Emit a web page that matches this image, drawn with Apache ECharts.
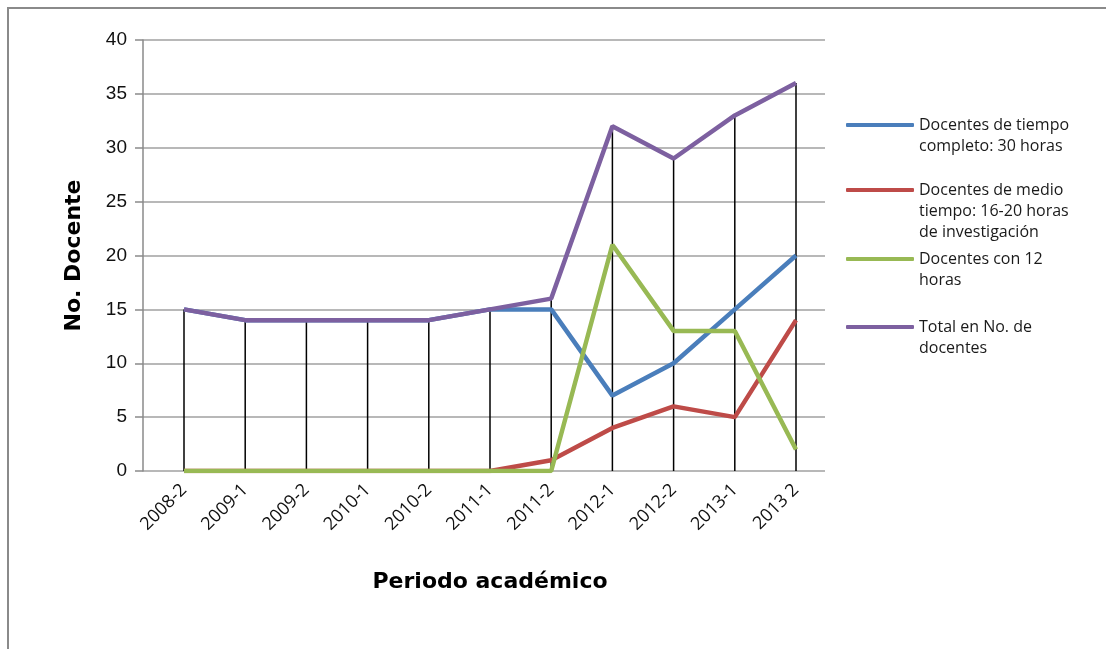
<!DOCTYPE html>
<html>
<head>
<meta charset="utf-8">
<script src="https://cdn.jsdelivr.net/npm/echarts@6/dist/echarts.min.js"></script>
<style>
  html, body { margin: 0; padding: 0; background: #fff; }
  #chart { width: 1106px; height: 649px; }
</style>
</head>
<body>
<div id="chart"></div>
<script>
// periodos
const periodos = ['2008-2', '2009-1', '2009-2', '2010-1', '2010-2', '2011-1', '2011-2', '2012-1', '2012-2', '2013-1', '2013 2'];
const tiempoCompleto = [15, 14, 14, 14, 14, 15, 15, 7, 10, 15, 20];
const medioTiempo = [0, 0, 0, 0, 0, 0, 1, 4, 6, 5, 14];
const doceHoras = [0, 0, 0, 0, 0, 0, 0, 21, 13, 13, 2];
const totalDocentes = [15, 14, 14, 14, 14, 15, 16, 32, 29, 33, 36];
const yTicks = [0, 5, 10, 15, 20, 25, 30, 35, 40];

const nombres = [
  'Docentes de tiempo\ncompleto: 30 horas',
  'Docentes de medio\ntiempo: 16-20 horas\nde investigación',
  'Docentes con 12\nhoras',
  'Total en No. de\ndocentes'
];
const colores = ['#4A7EBB', '#BE4B48', '#98B954', '#7D60A0'];
const legendTops = [125, 190, 259, 327];

const lineH = 21;
// lineas vacias arriba para que el icono quede en la primera linea
const legends = nombres.map((n, i) => {
  const k = n.split('\n').length;
  const alto = (2 * k - 1) * lineH;
  return {
    orient: 'vertical',
    left: 846,
    top: legendTops[i] - alto / 2,
    data: [n],
    formatter: name => '\n'.repeat(k - 1) + name,
    icon: 'roundRect',
    itemWidth: 68,
    itemHeight: 4,
    itemGap: 0,
    padding: 0,
    textStyle: {
      fontFamily: 'Open Sans',
      fontSize: 16,
      color: '#1a1a1a',
      lineHeight: lineH
    }
  };
});

const chart = echarts.init(document.getElementById('chart'));
const option = {
  backgroundColor: '#fff',
  animation: false,
  graphic: [{
    type: 'rect',
    shape: { x: 8, y: 8, width: 1120, height: 680 },
    style: { fill: 'none', stroke: '#8a8a8a', lineWidth: 2 },
    silent: true
  }],
  legend: legends,
  grid: [
    { left: 143, right: 281, top: 40, bottom: 178 },
    { left: 184, right: 310, top: 40, bottom: 178 }
  ],
  xAxis: [
    { gridIndex: 0, type: 'value', min: 0, max: 1, show: false },
    {
      gridIndex: 1,
      type: 'category',
      data: periodos,
      boundaryGap: false,
      axisLine: { show: false },
      axisTick: { show: false },
      axisLabel: {
        rotate: 45,
        margin: 16,
        fontFamily: 'Open Sans',
        fontSize: 18,
        color: '#111'
      },
      name: 'Periodo académico',
      nameLocation: 'middle',
      nameGap: 100,
      nameTextStyle: { fontFamily: 'DejaVu Sans', fontWeight: 'bold', fontSize: 22, color: '#000' }
    }
  ],
  yAxis: [
    {
      gridIndex: 0,
      type: 'value',
      min: yTicks[0],
      max: yTicks[yTicks.length - 1],
      interval: 5,
      axisLine: { show: true, lineStyle: { color: '#8a8a8a', width: 1.5 } },
      axisTick: { show: true, length: 8, lineStyle: { color: '#8a8a8a', width: 1.5 } },
      splitLine: { show: true, lineStyle: { color: '#a0a0a0', width: 1.5 } },
      axisLabel: { margin: 16, fontFamily: 'Liberation Sans', fontSize: 19, color: '#111' },
      name: 'No. Docente',
      nameLocation: 'middle',
      nameGap: 58,
      nameTextStyle: { fontFamily: 'DejaVu Sans', fontWeight: 'bold', fontSize: 22, color: '#000' }
    },
    { gridIndex: 1, type: 'value', min: 0, max: 40, show: false }
  ],
  series: [
    {
      // lineas de proyeccion
      type: 'bar',
      xAxisIndex: 1,
      yAxisIndex: 1,
      data: totalDocentes,
      barWidth: 1.5,
      itemStyle: { color: '#000' },
      silent: true,
      z: 1
    },
    { name: nombres[0], type: 'line', xAxisIndex: 1, yAxisIndex: 1, data: tiempoCompleto, symbol: 'none', color: colores[0], lineStyle: { width: 4.5 }, z: 3 },
    { name: nombres[1], type: 'line', xAxisIndex: 1, yAxisIndex: 1, data: medioTiempo, symbol: 'none', color: colores[1], lineStyle: { width: 4.5 }, z: 4 },
    { name: nombres[2], type: 'line', xAxisIndex: 1, yAxisIndex: 1, data: doceHoras, symbol: 'none', color: colores[2], lineStyle: { width: 4.5 }, z: 5 },
    { name: nombres[3], type: 'line', xAxisIndex: 1, yAxisIndex: 1, data: totalDocentes, symbol: 'none', color: colores[3], lineStyle: { width: 4.5 }, z: 6 }
  ]
};
chart.setOption(option);
</script>
</body>
</html>
